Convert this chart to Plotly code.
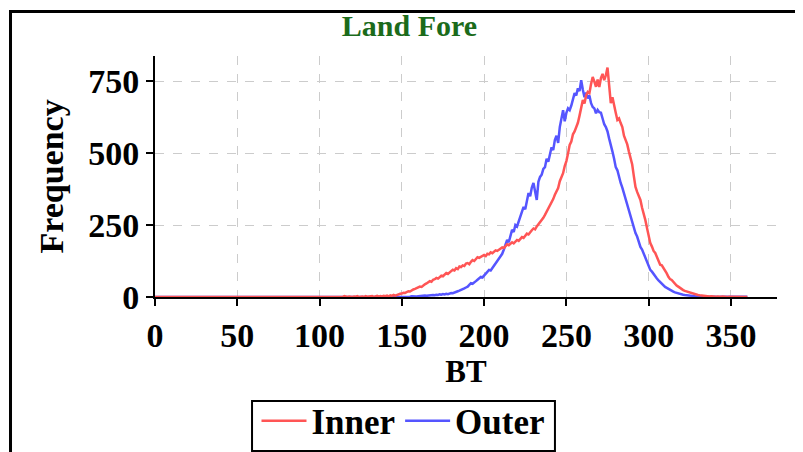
import plotly.graph_objects as go

# ---- data ----
BT_START = 110
bt_zero = list(range(0, BT_START))          # BT bins 0..109 (all zero counts)
bt_bins = list(range(BT_START, 361))        # BT bins 110..360

inner_zero = [0] * len(bt_zero)
outer_zero = [0] * len(bt_zero)

inner_counts = [
    0, 1, 0, 2, 0, 3, 1, 0, 2, 1,
    0, 2, 1, 3, 0, 1, 2, 0, 3, 1,
    2, 1, 3, 0, 2, 4, 1, 3, 2, 4,
    3, 5, 2, 6, 4, 7, 5, 8, 9, 11,
    12, 15, 14, 18, 20, 19, 24, 26, 28, 31,
    33, 36, 35, 41, 44, 47, 50, 55, 53, 60,
    62, 66, 64, 70, 74, 72, 78, 83, 80, 85,
    88, 95, 92, 100, 97, 106, 104, 110, 108, 116,
    118, 114, 122, 128, 125, 131, 138, 136, 140, 143,
    146, 142, 150, 148, 155, 152, 158, 162, 160, 165,
    168, 172, 170, 178, 183, 180, 187, 190, 186, 194,
    198, 195, 203, 208, 205, 214, 220, 217, 226, 232,
    238, 235, 245, 252, 258, 266, 275, 285, 296, 306,
    314, 326, 340, 355, 366, 378, 402, 415, 430, 455,
    472, 498, 528, 540, 565, 575, 590, 605, 630, 660,
    684, 672, 700, 712, 708, 740, 764, 748, 730, 755,
    729, 760, 775, 753, 770, 797, 720, 673, 694, 660,
    640, 615, 620, 604, 590, 560, 545, 530, 505, 486,
    460, 420, 382, 365, 350, 337, 310, 290, 267, 240,
    210, 187, 175, 160, 153, 140, 125, 112, 110, 101,
    95, 82, 70, 62, 59, 52, 45, 40, 36, 31,
    27, 24, 21, 19, 17, 15, 13, 11, 10, 8,
    7, 6, 5, 5, 4, 3, 3, 2, 3, 2,
    2, 1, 2, 1, 1, 2, 1, 1, 0, 1,
    1, 0, 1, 1, 0, 1, 0, 1, 0, 1, 0,
]

outer_counts = [
    0, 0, 0, 0, 0, 0, 0, 0, 0, 0,
    0, 0, 0, 0, 0, 0, 0, 0, 0, 0,
    0, 0, 0, 0, 0, 1, 0, 0, 0, 0,
    0, 1, 0, 0, 1, 0, 1, 0, 1, 1,
    1, 2, 1, 2, 2, 1, 3, 2, 3, 2,
    3, 4, 3, 4, 5, 4, 5, 6, 5, 7,
    6, 8, 7, 9, 8, 10, 9, 11, 10, 12,
    14, 13, 16, 18, 20, 22, 24, 27, 30, 33,
    36, 42, 48, 46, 52, 55, 60, 66, 70, 68,
    75, 82, 88, 94, 92, 100, 108, 115, 122, 132,
    140, 150, 165, 182, 198, 190, 215, 233, 226, 250,
    245, 262, 278, 290, 313, 305, 335, 361, 350, 380,
    396, 372, 337, 400, 417, 425, 445, 451, 480, 470,
    500, 520, 510, 545, 560, 535, 590, 620, 649, 610,
    640, 655, 649, 665, 690, 708, 700, 725, 715, 753,
    720, 694, 710, 690, 700, 673, 660, 655, 638, 650,
    642, 640, 620, 600, 590, 575, 550, 521, 505, 480,
    451, 440, 415, 396, 380, 360, 337, 320, 300, 278,
    262, 240, 222, 210, 192, 174, 165, 150, 139, 125,
    110, 94, 88, 80, 69, 64, 58, 52, 47, 40,
    35, 32, 28, 24, 22, 19, 16, 14, 12, 10,
    9, 8, 7, 6, 5, 4, 3, 3, 2, 2,
    2, 1, 1, 1, 1, 0, 1, 1, 0, 1,
    1, 0, 1, 0, 1, 1, 0, 1, 0, 1,
    1, 0, 1, 1, 0, 1, 1, 0, 1, 1, 1,
]

x_ticks = [0, 50, 100, 150, 200, 250, 300, 350]
y_ticks = [0, 250, 500, 750]
x_range = [0, 378]
y_range = [0, 837]

FONT = "Liberation Serif"

fig = go.Figure()
fig.add_trace(go.Scatter(
    x=bt_zero + bt_bins, y=outer_zero + outer_counts, mode="lines", name="Outer",
    line=dict(color="#5555FF", width=2.5), legendrank=2,
))
fig.add_trace(go.Scatter(
    x=bt_zero + bt_bins, y=inner_zero + inner_counts, mode="lines", name="Inner",
    line=dict(color="#FF5555", width=2.5), legendrank=1,
))

axis_common = dict(
    showline=True, linecolor="black", linewidth=2,
    ticks="outside", ticklen=7, tickwidth=2, tickcolor="black",
    showgrid=True, gridcolor="#cccccc", griddash="dash", gridwidth=1,
    zeroline=False, automargin=False,
    tickfont=dict(family=FONT, size=34, color="black", weight="bold"),
)

fig.update_xaxes(
    range=x_range, tickvals=x_ticks,
    title=dict(text="BT", font=dict(family=FONT, size=31, color="black", weight="bold"), standoff=8),
    **axis_common,
)
fig.update_yaxes(
    range=y_range, tickvals=y_ticks,
    title=dict(text="Frequency", font=dict(family=FONT, size=34, color="black", weight="bold"), standoff=14),
    **axis_common,
)

fig.update_layout(
    width=803, height=452,
    margin=dict(l=147, r=34, t=48, b=163, autoexpand=False),
    paper_bgcolor="white", plot_bgcolor="white",
    title=dict(text="Land Fore", x=0.5, xanchor="center", y=0.962, yanchor="middle",
               font=dict(family=FONT, size=30, color="#1B6B1B", weight="bold")),
    showlegend=True,
    legend=dict(orientation="h", x=0.3995, xanchor="center", y=-0.392, yanchor="top",
                font=dict(family=FONT, size=35, color="black", weight="bold"),
                itemwidth=45, borderwidth=0, bgcolor="rgba(0,0,0,0)"),
    shapes=[
        dict(type="rect", xref="paper", yref="paper",
             x0=-0.2323, x1=1.033, y0=-0.75, y1=1.1846,
             line=dict(color="black", width=3), fillcolor="rgba(0,0,0,0)", layer="below"),
        dict(type="rect", xref="paper", yref="paper",
             x0=0.156, x1=0.643, y0=-0.639, y1=-0.4315,
             line=dict(color="black", width=2), fillcolor="rgba(0,0,0,0)", layer="above"),
    ],
)

fig.write_html("out.html")
